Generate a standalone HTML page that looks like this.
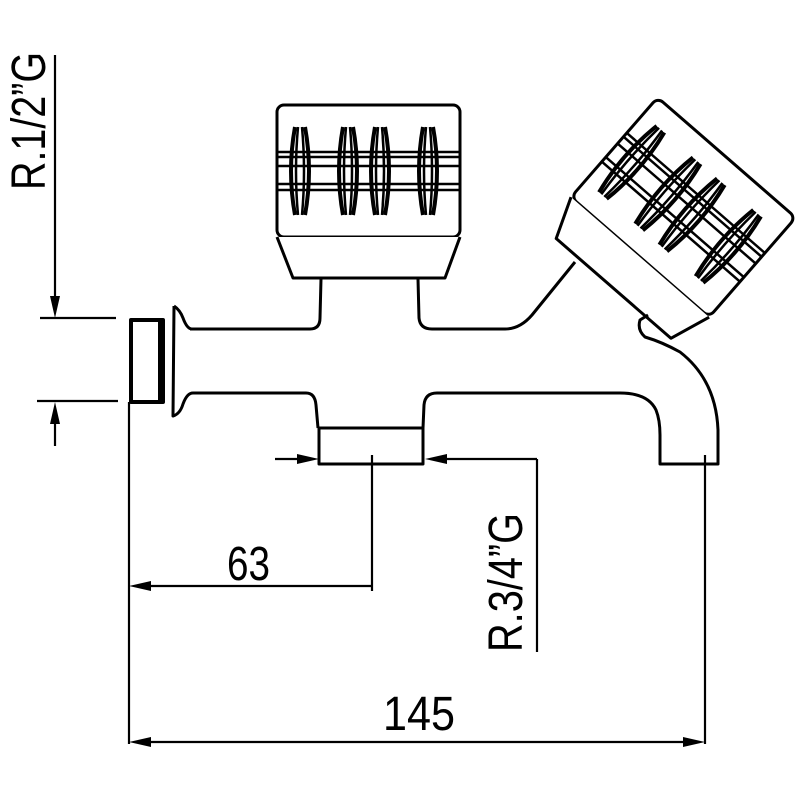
<!DOCTYPE html>
<html><head><meta charset="utf-8"><style>html,body{margin:0;padding:0;background:#fff}svg{display:block}</style></head>
<body>
<svg width="800" height="800" viewBox="0 0 800 800" xmlns="http://www.w3.org/2000/svg">
<defs>
<g id="knob">
  <rect x="-91" y="-66" width="183" height="132" rx="7" fill="#fff" stroke="#000" stroke-width="3"/>
  <path d="M-91,66 L-75,107 L77,107 L92,66" fill="#fff" stroke="#000" stroke-width="3"/>
  <g stroke="#000" stroke-width="2.5" fill="none">
    <line x1="-91" y1="-19" x2="92" y2="-19"/>
    <line x1="-91" y1="-14" x2="92" y2="-14"/>
    <line x1="-91" y1="-5" x2="92" y2="-5"/>
    <line x1="-91" y1="13" x2="92" y2="13"/>
    <line x1="-91" y1="19" x2="92" y2="19"/>
  </g>
  <g id="spk">
    <path d="M-63,-44 Q-55,0 -63,44 M-73,-44 Q-81,0 -73,44" stroke="#000" stroke-width="4" fill="none"/>
    <path d="M-66,-44 Q-62,0 -66,44 M-70,-44 Q-74,0 -70,44" stroke="#000" stroke-width="2.5" fill="none"/>
  </g>
  <use href="#spk" x="48"/>
  <use href="#spk" x="80"/>
  <use href="#spk" x="128"/>
</g>
</defs>
<g fill="none" stroke="#000" stroke-linejoin="round">
  <use href="#knob" x="368" y="171"/>
  <g transform="translate(683,207) rotate(41)"><use href="#knob"/></g>
  <!-- body -->
  <path d="M190,329 L310,329 Q320,329 320,318 L321,279" stroke-width="3"/>
  <path d="M418,279 L419,318 Q420,329 432,329 L505,329 Q520,329 532,315 L575,262" stroke-width="3"/>
  <path d="M174,306 Q180,310 183,318 Q187,329 192,329" stroke-width="3"/>
  <path d="M174,306 L173,416 Q180,414 183,404 Q187,393 193,393 L306,393 Q315,393 316,405 L318,428" stroke-width="3"/>
  <rect x="319" y="428" width="104" height="36" stroke-width="3"/>
  <path d="M423,428 L424,405 Q425,393 437,393 L620,393 Q648,393 656,410 Q660,420 660,435 L660,464 L718,464 L718,430 Q716,380 680,352 Q662,342 645,337 Q637,330 640,320 L648,315" stroke-width="3"/>
  <rect x="131" y="320" width="32" height="82" stroke-width="4"/>
  <line x1="160" y1="320" x2="160" y2="402" stroke-width="4"/>
  <!-- dimensions -->
  <g stroke-width="2.2">
    <line x1="55" y1="55" x2="55" y2="300"/>
    <line x1="40" y1="318" x2="116" y2="318"/>
    <line x1="37" y1="401" x2="118" y2="401"/>
    <line x1="55" y1="420" x2="55" y2="446"/>
    <line x1="129" y1="402" x2="129" y2="744"/>
    <line x1="372" y1="455" x2="372" y2="591"/>
    <line x1="150" y1="586" x2="372" y2="586"/>
    <line x1="275" y1="459" x2="300" y2="459"/>
    <line x1="445" y1="459" x2="537" y2="459"/>
    <line x1="537" y1="459" x2="537" y2="652"/>
    <line x1="705" y1="455" x2="705" y2="744"/>
    <line x1="150" y1="742" x2="685" y2="742"/>
  </g>
  <g fill="#000" stroke="none">
    <polygon points="55,318 50,296 60,296"/>
    <polygon points="55,402 50,424 60,424"/>
    <polygon points="129,586 151,581 151,591"/>
    <polygon points="319,459 297,454 297,464"/>
    <polygon points="425,459 447,454 447,464"/>
    <polygon points="129,742 151,737 151,747"/>
    <polygon points="705,742 683,737 683,747"/>
  </g>
</g>
<g font-family="'Liberation Sans', sans-serif" font-size="48" fill="#000">
  <text x="227" y="580" textLength="43" lengthAdjust="spacingAndGlyphs">63</text>
  <text x="383" y="730" textLength="72" lengthAdjust="spacingAndGlyphs">145</text>
  <text transform="translate(45,190) rotate(-90)" textLength="138" lengthAdjust="spacingAndGlyphs">R.1/2”G</text>
  <text transform="translate(522,652) rotate(-90)" textLength="139" lengthAdjust="spacingAndGlyphs">R.3/4”G</text>
</g>
</svg>
</body></html>
